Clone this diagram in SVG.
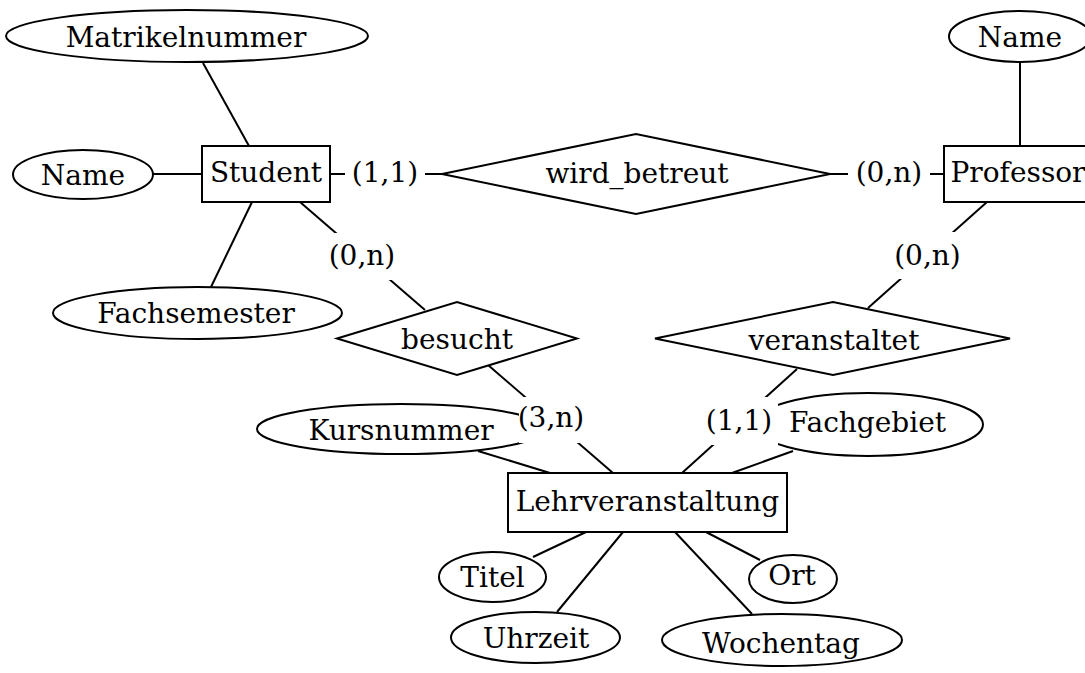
<svg xmlns="http://www.w3.org/2000/svg" width="1085" height="673" viewBox="0 0 1085 673">
<style>
  .s { fill: #ffffff; stroke: #000000; stroke-width: 2; }
  .c line { stroke: #000000; stroke-width: 2; }
  text { font-family: "DejaVu Serif", "Liberation Serif", serif; font-size: 28px; fill: #000000; text-anchor: middle; }
  .bg { fill: #ffffff; stroke: none; }
</style>
<rect x="0" y="0" width="1085" height="673" fill="#ffffff"/>
<g id="connectors" class="c">
  <line x1="203" y1="63" x2="249" y2="146"/>
  <line x1="153" y1="174" x2="202" y2="174"/>
  <line x1="252" y1="202" x2="211" y2="287"/>
  <line x1="330" y1="174" x2="442" y2="174"/>
  <line x1="830" y1="174" x2="944" y2="174"/>
  <line x1="1020" y1="62" x2="1020" y2="146"/>
  <line x1="300" y1="202" x2="425" y2="310"/>
  <line x1="987" y1="202" x2="868" y2="308"/>
  <line x1="488" y1="365" x2="613" y2="473"/>
  <line x1="797" y1="369" x2="682" y2="473"/>
  <line x1="478" y1="451" x2="550" y2="473"/>
  <line x1="793" y1="451" x2="732" y2="473"/>
  <line x1="533" y1="557" x2="586" y2="532"/>
  <line x1="557" y1="612" x2="623" y2="532"/>
  <line x1="752" y1="614" x2="675" y2="532"/>
  <line x1="760" y1="560" x2="706" y2="532"/>
</g>
<g id="matrikelnummer"><ellipse class="s" cx="187" cy="36" rx="181" ry="26"/><text x="186" y="47">Matrikelnummer</text></g>
<g id="name-student"><ellipse class="s" cx="83" cy="174.5" rx="70" ry="24.5"/><text x="83" y="185">Name</text></g>
<g id="student"><rect class="s" x="202" y="146" width="128" height="56"/><text x="266" y="182">Student</text></g>
<g id="fachsemester"><ellipse class="s" cx="197.5" cy="313" rx="144.5" ry="26"/><text x="196" y="323">Fachsemester</text></g>
<g id="wird_betreut"><polygon class="s" points="442,174 636,134 830,174 636,214"/><text x="637" y="183">wird_betreut</text></g>
<g id="professor"><rect class="s" x="944" y="146" width="150" height="56"/><text x="1018" y="182">Professor</text></g>
<g id="name-professor"><ellipse class="s" cx="1020" cy="36.5" rx="71" ry="25.5"/><text x="1020" y="47">Name</text></g>
<g id="besucht"><polygon class="s" points="337,338.5 457,302 577,338.5 457,375"/><text x="457" y="349">besucht</text></g>
<g id="veranstaltet"><polygon class="s" points="655,338.5 833,302 1010,338.5 833,375"/><text x="834" y="350">veranstaltet</text></g>
<g id="kursnummer"><ellipse class="s" cx="401" cy="429" rx="144" ry="25"/><text x="401" y="440">Kursnummer</text></g>
<g id="fachgebiet"><ellipse class="s" cx="868" cy="424.5" rx="115" ry="31.5"/><text x="867.5" y="432">Fachgebiet</text></g>
<g id="lehrveranstaltung"><rect class="s" x="508" y="473" width="279" height="59"/><text x="647.5" y="511">Lehrveranstaltung</text></g>
<g id="titel"><ellipse class="s" cx="492.5" cy="577" rx="53.5" ry="25"/><text x="492.5" y="587">Titel</text></g>
<g id="uhrzeit"><ellipse class="s" cx="535.5" cy="637.5" rx="84.5" ry="25.5"/><text x="536" y="648">Uhrzeit</text></g>
<g id="ort"><ellipse class="s" cx="793" cy="579" rx="44" ry="24"/><text x="792" y="585">Ort</text></g>
<g id="wochentag"><ellipse class="s" cx="782" cy="640" rx="120" ry="26"/><text x="781" y="653">Wochentag</text></g>
<g id="cardinalities">
  <rect class="bg" x="345" y="151" width="80" height="46"/><text x="385" y="182">(1,1)</text>
  <rect class="bg" x="848" y="151" width="82" height="46"/><text x="889" y="182">(0,n)</text>
  <rect class="bg" x="330" y="233" width="64" height="47"/><text x="362" y="265">(0,n)</text>
  <rect class="bg" x="895" y="232" width="65" height="47"/><text x="927.5" y="265">(0,n)</text>
  <rect class="bg" x="519" y="397" width="64" height="46"/><text x="551" y="427">(3,n)</text>
  <rect class="bg" x="705" y="397" width="73" height="48"/><text x="739" y="430">(1,1)</text>
</g>
</svg>
